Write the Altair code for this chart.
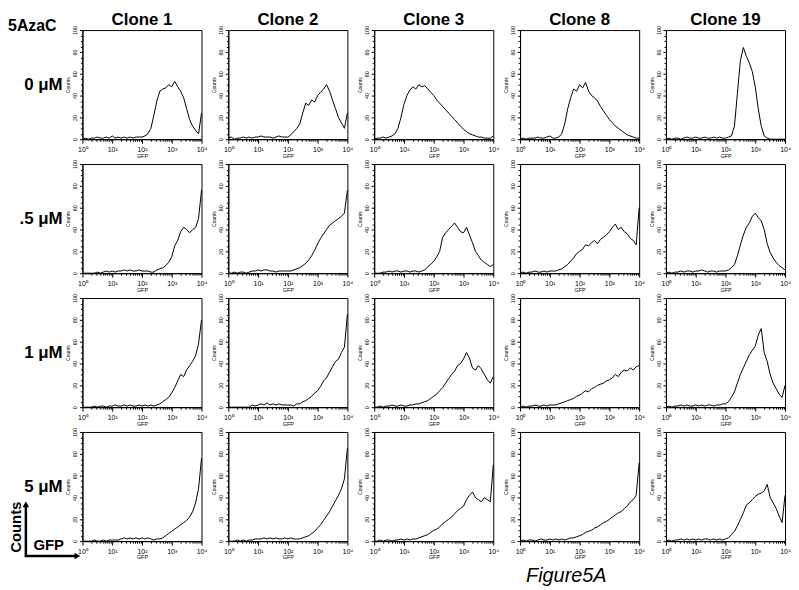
import altair as alt
import pandas as pd

FONT = "Liberation Sans"

clones = ["Clone 1", "Clone 2", "Clone 3", "Clone 8", "Clone 19"]
doses = ["0 μM", ".5 μM", "1 μM", "5 μM"]

# GFP channel positions (log spaced, 10 per decade)
gfp = [1, 1.26, 1.58, 2.0, 2.51, 3.16, 3.98, 5.01, 6.31, 7.94,
       10, 12.6, 15.8, 20.0, 25.1, 31.6, 39.8, 50.1, 63.1, 79.4,
       100, 126, 158, 200, 251, 316, 398, 501, 631, 794,
       1000, 1259, 1585, 1995, 2512, 3162, 3981, 5012, 6310, 7943, 10000]

# Row 0 uM
r1c1 = [0,1,0,1,1,2,1,1,2,1, 3,1,2,1,2,1,2,1,2,2, 2,3,5,10,22,35,44,46,47,50, 48,53,48,44,38,28,18,12,8,5, 24]
r1c2 = [1,2,0,1,1,2,1,2,1,2, 2,3,2,2,2,1,2,3,2,2, 2,4,7,10,14,24,33,31,36,34, 40,43,46,50,44,36,28,20,15,10, 24]
r1c3 = [0,1,1,2,1,2,3,5,10,20, 32,40,45,48,46,50,48,49,46,43, 40,36,33,30,27,24,21,18,15,12, 9,7,5,4,3,2,2,1,1,1, 3]
r1c4 = [0,1,0,1,1,1,2,1,1,2, 3,1,1,2,5,14,28,38,46,44, 50,47,52,44,40,38,35,30,26,22, 18,15,12,10,8,6,4,3,2,1, 1]
r1c5 = [0,1,0,1,1,0,1,2,1,1, 2,1,1,2,1,1,2,1,2,1, 1,2,3,12,42,72,84,76,70,62, 48,28,12,3,1,0,0,0,0,0, 0]
# Row .5 uM
r2c1 = [0,0,0,0,0,1,0,1,2,1, 2,1,2,2,3,2,3,2,2,3, 2,2,2,1,1,3,4,5,7,10, 15,25,30,38,42,40,37,40,42,50, 76]
r2c2 = [0,0,1,0,1,1,0,1,2,2, 3,2,3,3,2,2,1,2,2,2, 2,2,3,4,5,7,9,12,16,21, 27,32,36,40,44,46,48,50,52,55, 76]
r2c3 = [0,0,0,1,1,2,1,2,2,1, 2,2,1,2,2,1,2,3,6,8, 11,15,20,33,37,40,43,46,42,38, 37,42,35,28,20,16,12,10,8,6, 8]
r2c4 = [0,1,0,1,1,2,1,1,2,1, 2,2,2,3,4,6,8,11,14,18, 20,22,26,25,28,30,27,31,33,35, 38,42,45,40,42,38,36,32,30,26, 60]
r2c5 = [0,1,0,1,1,2,1,2,2,1, 2,2,3,2,1,2,2,1,2,2, 2,3,5,8,16,26,35,42,46,52, 55,51,48,40,27,19,14,10,7,5, 3]
# Row 1 uM
r3c1 = [0,0,0,0,1,0,1,1,0,1, 1,2,1,1,2,1,2,1,1,2, 1,2,1,2,1,2,3,5,7,9, 13,18,24,30,28,34,38,42,47,58, 80]
r3c2 = [0,0,0,0,0,0,0,0,2,1, 2,3,2,4,2,3,2,3,2,2, 2,2,1,3,3,5,6,8,10,13, 15,19,24,27,32,37,42,44,50,55, 85]
r3c3 = [0,0,1,0,1,1,2,1,1,2, 1,1,2,2,3,3,4,5,6,8, 10,12,15,18,22,26,30,33,38,40, 44,50,45,36,34,38,35,30,25,22, 28]
r3c4 = [0,1,0,1,1,2,1,1,2,1, 2,2,2,3,4,5,6,7,8,10, 11,13,15,14,17,18,20,21,22,24, 25,27,30,28,32,34,33,36,34,37, 38]
r3c5 = [0,1,0,1,1,2,1,2,1,1, 2,1,2,1,2,2,1,2,2,3, 3,5,9,14,22,30,36,42,48,52, 56,66,72,50,42,30,22,17,12,9, 20]
# Row 5 uM
r4c1 = [0,0,0,0,1,0,0,1,0,1, 1,1,1,2,3,2,3,2,3,2, 3,2,3,2,1,2,2,3,5,7, 9,11,13,15,17,19,22,27,35,48, 76]
r4c2 = [0,0,0,1,0,1,0,1,1,2, 2,2,3,2,3,2,3,2,2,3, 2,3,2,2,2,3,4,5,7,9, 12,15,19,23,27,32,37,42,48,57, 85]
r4c3 = [0,0,1,0,1,1,0,1,1,2, 1,2,1,2,2,3,4,5,6,8, 10,11,13,16,18,20,22,25,28,30, 32,38,42,45,40,38,36,40,38,36, 70]
r4c4 = [0,1,0,1,1,0,1,2,1,1, 2,1,2,1,2,1,2,3,3,4, 5,6,8,9,10,12,13,15,17,18, 20,22,24,26,27,30,32,36,38,42, 72]
r4c5 = [0,1,0,1,1,2,1,2,1,2, 1,2,1,2,2,1,2,1,2,1, 2,3,6,9,14,20,26,33,35,38, 41,43,44,46,52,40,35,30,23,17, 42]

series = [[r1c1, r1c2, r1c3, r1c4, r1c5],
          [r2c1, r2c2, r2c3, r2c4, r2c5],
          [r3c1, r3c2, r3c3, r3c4, r3c5],
          [r4c1, r4c2, r4c3, r4c4, r4c5]]

x_ticks = [1, 2, 3, 4, 5, 6, 7, 8, 9,
           10, 20, 30, 40, 50, 60, 70, 80, 90,
           100, 200, 300, 400, 500, 600, 700, 800, 900,
           1000, 2000, 3000, 4000, 5000, 6000, 7000, 8000, 9000, 10000]
y_ticks = [0, 5, 10, 15, 20, 25, 30, 35, 40, 45, 50, 55, 60, 65, 70, 75, 80, 85, 90, 95, 100]

records = []
for ri, d in enumerate(doses):
    for ci, c in enumerate(clones):
        for g, v in zip(gfp, series[ri][ci]):
            records.append({"panel": f"{ri}-{ci}", "gfp": g, "count": v})
df = pd.DataFrame(records)

x_axis = alt.Axis(
    values=x_ticks,
    labelExpr="datum.value == 1 ? '10⁰' : datum.value == 10 ? '10¹' : datum.value == 100 ? '10²' : datum.value == 1000 ? '10³' : datum.value == 10000 ? '10⁴' : ''",
    tickSize={"condition": {"test": "indexof([1,10,100,1000,10000], datum.value) >= 0", "value": 4}, "value": 2},
    labelFontSize=7, labelPadding=2, labelOverlap=False, labelFlush=False,
    title="GFP", titleFontSize=5.5, titleFontWeight="normal", titlePadding=1,
    grid=False,
)
y_axis = alt.Axis(
    values=y_ticks,
    labelExpr="datum.value % 20 == 0 ? datum.label : ''",
    tickSize={"condition": {"test": "datum.value % 20 == 0", "value": 3}, "value": 2},
    labelAngle=270, labelAlign="center", labelBaseline="bottom",
    labelFontSize=5.5, labelPadding=2, labelOverlap=False, labelFlush=False,
    title="Counts", titleFontSize=5, titleFontWeight="normal", titlePadding=2,
    grid=False,
)

PW, PH = 120, 110

def panel(ri, ci):
    ch = alt.Chart(df).transform_filter(
        alt.FieldEqualPredicate(field="panel", equal=f"{ri}-{ci}")
    ).mark_line(color="black", strokeWidth=1).encode(
        x=alt.X("gfp:Q", scale=alt.Scale(type="log", domain=[1, 10000], nice=False), axis=x_axis),
        y=alt.Y("count:Q", scale=alt.Scale(domain=[0, 100], nice=False), axis=y_axis),
    )
    if ri == 0:
        return ch.properties(width=PW, height=PH,
                             title=alt.TitleParams(clones[ci], fontSize=17, fontWeight="bold", font=FONT, offset=-4))
    return ch.properties(width=PW, height=PH)

def label_chart(ri):
    tdf = pd.DataFrame({"t": [doses[ri]]})
    base = alt.Chart(tdf)
    txt = base.mark_text(align="right", baseline="middle", fontSize=17, fontWeight="bold",
                         font=FONT, color="black").encode(
        text="t:N", x=alt.value(54), y=alt.value(55))
    view = alt.ViewBackground(stroke="transparent", strokeWidth=0)
    if ri == 0:
        return txt.properties(width=47, height=PH, view=view,
                              title=alt.TitleParams("5AzaC", fontSize=16, fontWeight="bold", font=FONT, offset=-4))
    if ri == 3:
        counts_t = base.mark_text(angle=270, align="center", baseline="middle", fontSize=15,
                                  fontWeight="bold", font=FONT, color="black").encode(
            text=alt.value("Counts"), x=alt.value(7), y=alt.value(96))
        gfp_t = base.mark_text(align="center", baseline="middle", fontSize=15,
                               fontWeight="bold", font=FONT, color="black").encode(
            text=alt.value("GFP"), x=alt.value(40), y=alt.value(114))
        vline = base.mark_rule(color="black", strokeWidth=2.5).encode(
            x=alt.value(17), y=alt.value(75), y2=alt.value(126))
        hline = base.mark_rule(color="black", strokeWidth=2.5).encode(
            x=alt.value(16), x2=alt.value(67), y=alt.value(125))
        up = base.mark_point(shape="triangle-up", filled=True, size=45, color="black", opacity=1).encode(
            x=alt.value(17), y=alt.value(73))
        right = base.mark_point(shape="triangle-right", filled=True, size=45, color="black", opacity=1).encode(
            x=alt.value(69), y=alt.value(125))
        return alt.layer(txt, counts_t, gfp_t, vline, hline, up, right).properties(
            width=47, height=PH, view=view)
    return txt.properties(width=47, height=PH, view=view)

cells = []
for ri in range(4):
    cells.append(label_chart(ri))
    for ci in range(5):
        cells.append(panel(ri, ci))

chart = alt.concat(*cells, columns=6, spacing={"row": 25, "column": 27},
                   bounds="flush", align="each").properties(
    padding=0,
    title=alt.TitleParams("Figure5A", orient="bottom", anchor="start", dx=522, dy=1,
                          fontSize=20, fontStyle="italic", fontWeight="normal", font=FONT, color="black"),
).configure_axis(
    labelFont=FONT, titleFont=FONT, domainColor="black", tickColor="black",
    labelColor="black", titleColor="black", domainWidth=1, tickWidth=1,
).configure_view(stroke="black", strokeWidth=1).configure_title(color="black")

chart.save("out.html", embed_options={"renderer": "svg", "actions": False})
